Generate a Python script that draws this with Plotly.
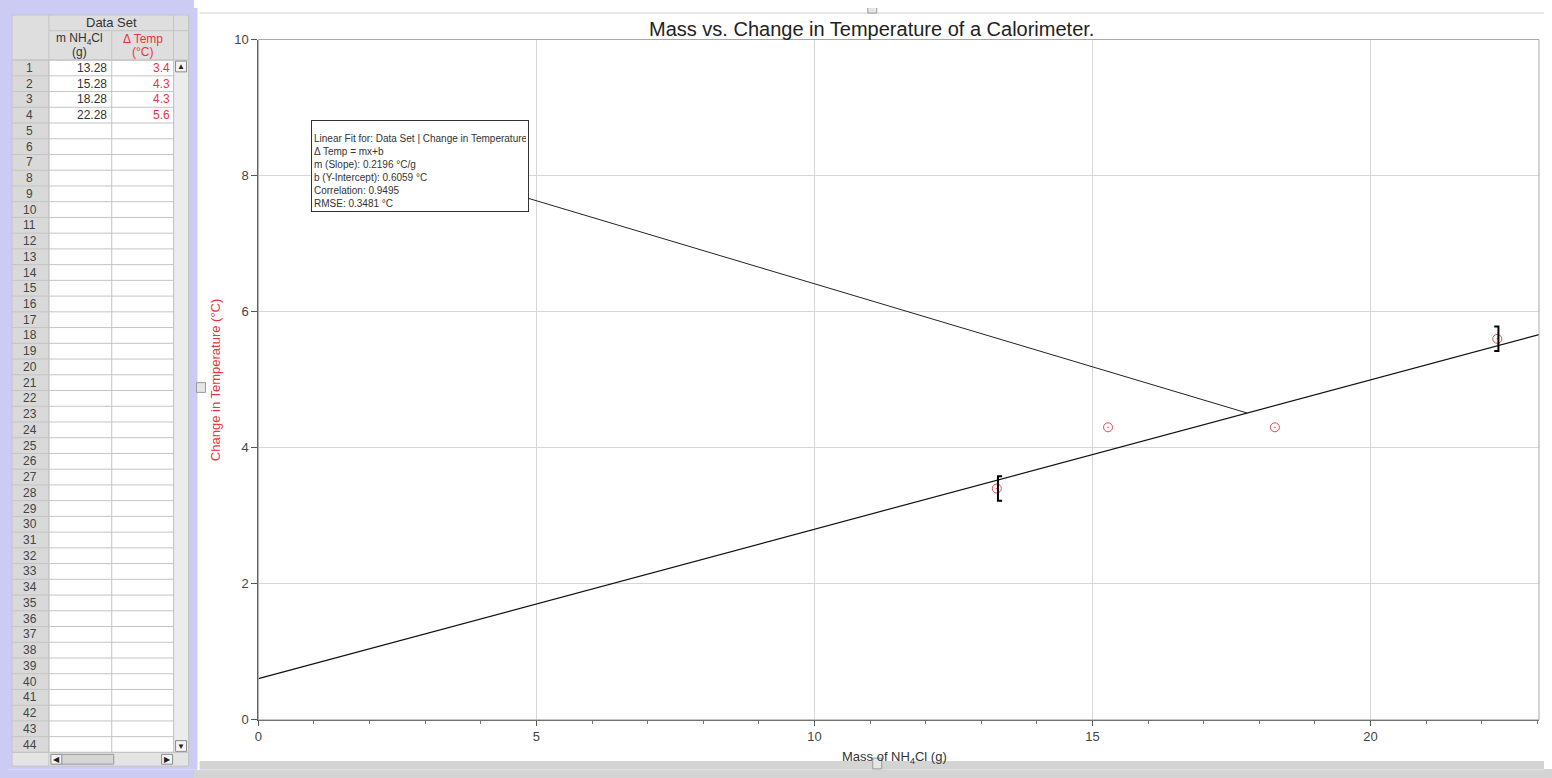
import plotly.graph_objects as go

# ---------------- data ----------------
mass_g = [13.28, 15.28, 18.28, 22.28]
delta_temp_c = [3.4, 4.3, 4.3, 5.6]
mass_labels = ["13.28", "15.28", "18.28", "22.28"]
temp_labels = ["3.4", "4.3", "4.3", "5.6"]
row_numbers = list(range(1, 45))

fit_slope = 0.2196
fit_intercept = 0.6059
fit_x_range = [0, 23.03]
fit_label_x = 17.78

x_ticks = [0, 5, 10, 15, 20]
y_ticks = [0, 2, 4, 6, 8, 10]

fit_text_lines = [
    "Linear Fit for: Data Set | Change in Temperature",
    "Δ Temp = mx+b",
    "m (Slope): 0.2196 °C/g",
    "b (Y-Intercept): 0.6059 °C",
    "Correlation: 0.9495",
    "RMSE: 0.3481 °C",
]

# page is 1552x778; the browser body keeps an 8px margin, so the figure
# itself is 16px smaller and everything is placed in screen pixels - 8
SCREEN_W, SCREEN_H = 1552, 778
OFF = 8
W, H = SCREEN_W - 2 * OFF, SCREEN_H - 2 * OFF
FONT = "Arial, Liberation Sans, sans-serif"
LAV = "#cbcbf3"
STRIP = "#d4d4d4"


def px(x):
    return (x - OFF) / W


def py(y):
    return 1 - (y - OFF) / H


shapes = []
annotations = []


def rect(x0, y0, x1, y1, fill, line=None, lw=1):
    shapes.append(dict(type="rect", xref="paper", yref="paper",
                       x0=px(x0), x1=px(x1), y0=py(y1), y1=py(y0),
                       fillcolor=fill,
                       line=dict(color=line if line else fill, width=lw if line else 0),
                       layer="below"))


def hline(x0, x1, y, color, lw=1, layer="below"):
    shapes.append(dict(type="line", xref="paper", yref="paper",
                       x0=px(x0), x1=px(x1), y0=py(y), y1=py(y),
                       line=dict(color=color, width=lw), layer=layer))


def vline(x, y0, y1, color, lw=1, layer="below"):
    shapes.append(dict(type="line", xref="paper", yref="paper",
                       x0=px(x), x1=px(x), y0=py(y0), y1=py(y1),
                       line=dict(color=color, width=lw), layer=layer))


def text(x, y, s, size=12, color="#333", xanchor="center", angle=0):
    annotations.append(dict(xref="paper", yref="paper", x=px(x), y=py(y),
                            text=s, showarrow=False, xanchor=xanchor, yanchor="middle",
                            textangle=angle,
                            font=dict(family=FONT, size=size, color=color)))


# ---------------- left data table panel ----------------
rect(0, 0, 194, SCREEN_H, LAV)
GRID = "#c4c4c4"
HDR = "#dedede"
ROW_TOP = 54
ROW_H = 16.05
ROW_BOT = ROW_TOP + ROW_H * 44

rect(8, 8, 185, ROW_TOP, HDR, GRID)
rect(8, ROW_TOP, 45, ROW_BOT, "#d9d9d9", GRID)
rect(45, ROW_TOP, 170, ROW_BOT, "#ffffff", GRID)
rect(170, ROW_TOP, 185, ROW_BOT, "#ececec", GRID)
rect(172, ROW_TOP + 1, 183, ROW_TOP + 12, "#f4f4f4", "#8a8a8a")
rect(172, ROW_BOT - 12, 183, ROW_BOT - 1, "#f4f4f4", "#8a8a8a")
rect(8, ROW_BOT, 185, ROW_BOT + 14, "#e4e4e4", GRID)
rect(47, ROW_BOT + 2, 58, ROW_BOT + 12, "#f4f4f4", "#8a8a8a")
rect(58, ROW_BOT + 2, 110, ROW_BOT + 12, "#d6d6d6", "#9a9a9a")
rect(158, ROW_BOT + 2, 169, ROW_BOT + 12, "#f4f4f4", "#8a8a8a")

hline(45, 185, 24, GRID)
vline(45, 8, ROW_BOT + 14, GRID)
vline(108, 24, ROW_BOT, GRID)
vline(170, 8, ROW_BOT, GRID)
for i in range(45):
    y = ROW_TOP + ROW_H * i
    hline(8, 170, y, GRID)

text(108, 16, "Data Set", 13, "#333")
text(76, 32, "m NH<sub>4</sub>Cl", 12, "#333")
text(76, 46, "(g)", 12, "#333")
text(139, 32, "Δ Temp", 12, "#e8343a")
text(139, 46, "(°C)", 12, "#e8343a")
text(177.5, ROW_TOP + 6.5, "▲", 8, "#222")
text(177.5, ROW_BOT - 6.5, "▼", 8, "#222")
text(52.5, ROW_BOT + 7, "◀", 8, "#222")
text(163.5, ROW_BOT + 7, "▶", 8, "#222")

for i, n in enumerate(row_numbers):
    text(26, ROW_TOP + ROW_H * (i + 0.5), str(n), 12, "#444")
for i in range(len(mass_labels)):
    yc = ROW_TOP + ROW_H * (i + 0.5)
    text(105, yc, mass_labels[i], 12, "#333", xanchor="right")
    text(168, yc, temp_labels[i], 12, "#e8343a", xanchor="right")

# ---------------- graph panel frame ----------------
hline(196, 1545, 6, "#d0d0d0")
vline(1545, 6, 768, "#d0d0d0")
rect(196, 769, SCREEN_W, SCREEN_H, STRIP)
rect(193, 383, 202, 393, "#e6e6e6", "#9a9a9a")
rect(1546, 383, 1552, 393, "#e6e6e6", "#9a9a9a")
rect(866, 0, 875, 6, "#e6e6e6", "#9a9a9a")
rect(871, 766, 880, 777, "#e6e6e6", "#9a9a9a")

PL, PR, PT, PB = 255, 1539, 33, 727
shapes.append(dict(type="rect", xref="paper", yref="paper",
                   x0=px(PL), x1=px(PR), y0=py(PB), y1=py(PT),
                   line=dict(color="#a8a8a8", width=1), fillcolor="rgba(0,0,0,0)",
                   layer="above"))

text(870, 22, "Mass vs. Change in Temperature of a Calorimeter.", 20, "#222")
text(212, 380, "Change in Temperature (°C)", 13, "#e8343a", angle=-90)
text(893, 765, "Mass of NH<sub>4</sub>Cl (g)", 13, "#333")

# ---------------- traces ----------------
fig = go.Figure()

fit_y = [fit_slope * x + fit_intercept for x in fit_x_range]
fig.add_trace(go.Scatter(x=fit_x_range, y=fit_y, mode="lines",
                         line=dict(color="#111", width=1.2), hoverinfo="skip",
                         showlegend=False))

fig.add_trace(go.Scatter(x=mass_g, y=delta_temp_c, mode="markers",
                         marker=dict(symbol="circle-open-dot", size=9,
                                     color="#e8474c", line=dict(width=1)),
                         showlegend=False))

bx_w = 0.075
bh = 0.18
x0, y0 = mass_g[0], delta_temp_c[0]
x1, y1 = mass_g[-1], delta_temp_c[-1]
fig.add_trace(go.Scatter(x=[x0 + 0.02 + bx_w, x0 + 0.02, x0 + 0.02, x0 + 0.02 + bx_w],
                         y=[y0 + bh, y0 + bh, y0 - bh, y0 - bh], mode="lines",
                         line=dict(color="#000", width=2), hoverinfo="skip",
                         showlegend=False))
fig.add_trace(go.Scatter(x=[x1 + 0.02 - bx_w, x1 + 0.02, x1 + 0.02, x1 + 0.02 - bx_w],
                         y=[y1 + bh, y1 + bh, y1 - bh, y1 - bh], mode="lines",
                         line=dict(color="#000", width=2), hoverinfo="skip",
                         showlegend=False))

label_y = fit_slope * fit_label_x + fit_intercept
annotations.append(dict(
    x=fit_label_x, y=label_y, xref="x", yref="y",
    text="<br>".join(fit_text_lines),
    showarrow=True, arrowhead=0, arrowwidth=1, arrowcolor="#222",
    ax=-827, ay=-247,
    width=212, height=86, align="left", valign="bottom",
    bordercolor="#333", borderwidth=1, borderpad=2, bgcolor="#ffffff",
    font=dict(family=FONT, size=10, color="#333"),
))
rect(312, 122, 319, 129, "#555")
rect(320, 122, 327, 129, "#777")

fig.update_layout(
    width=W, height=H, autosize=False,
    margin=dict(l=0, r=0, t=0, b=0, pad=0),
    paper_bgcolor="#ffffff", plot_bgcolor="#ffffff",
    shapes=shapes, annotations=annotations,
    showlegend=False,
    xaxis=dict(domain=[px(PL), px(PR)], range=[0, 23.03], tickvals=x_ticks,
               showgrid=True, gridcolor="#d6d6d6", gridwidth=1, zeroline=False,
               showline=True, linecolor="#555", linewidth=1,
               ticks="outside", ticklen=5, tickcolor="#555",
               minor=dict(dtick=1, ticks="outside", ticklen=3, tickcolor="#777", showgrid=False),
               tickfont=dict(family=FONT, size=13, color="#444")),
    yaxis=dict(domain=[py(PB), py(PT)], range=[0, 10], tickvals=y_ticks,
               showgrid=True, gridcolor="#d6d6d6", gridwidth=1, zeroline=False,
               showline=True, linecolor="#555", linewidth=1,
               ticks="outside", ticklen=6, tickcolor="#555",
               tickfont=dict(family=FONT, size=13, color="#444")),
)

# colour the 8px page margin round the figure like the panels next to it
page_bg = ("linear-gradient(to right, %s 0px, %s 194px, rgba(0,0,0,0) 194px), "
           "linear-gradient(to top, %s 0px, %s 9px, #ffffff 9px)") % (LAV, LAV, STRIP, STRIP)
fig.write_html("out.html", config={"displayModeBar": False, "responsive": False},
               post_script="document.body.style.background='%s';" % page_bg)
